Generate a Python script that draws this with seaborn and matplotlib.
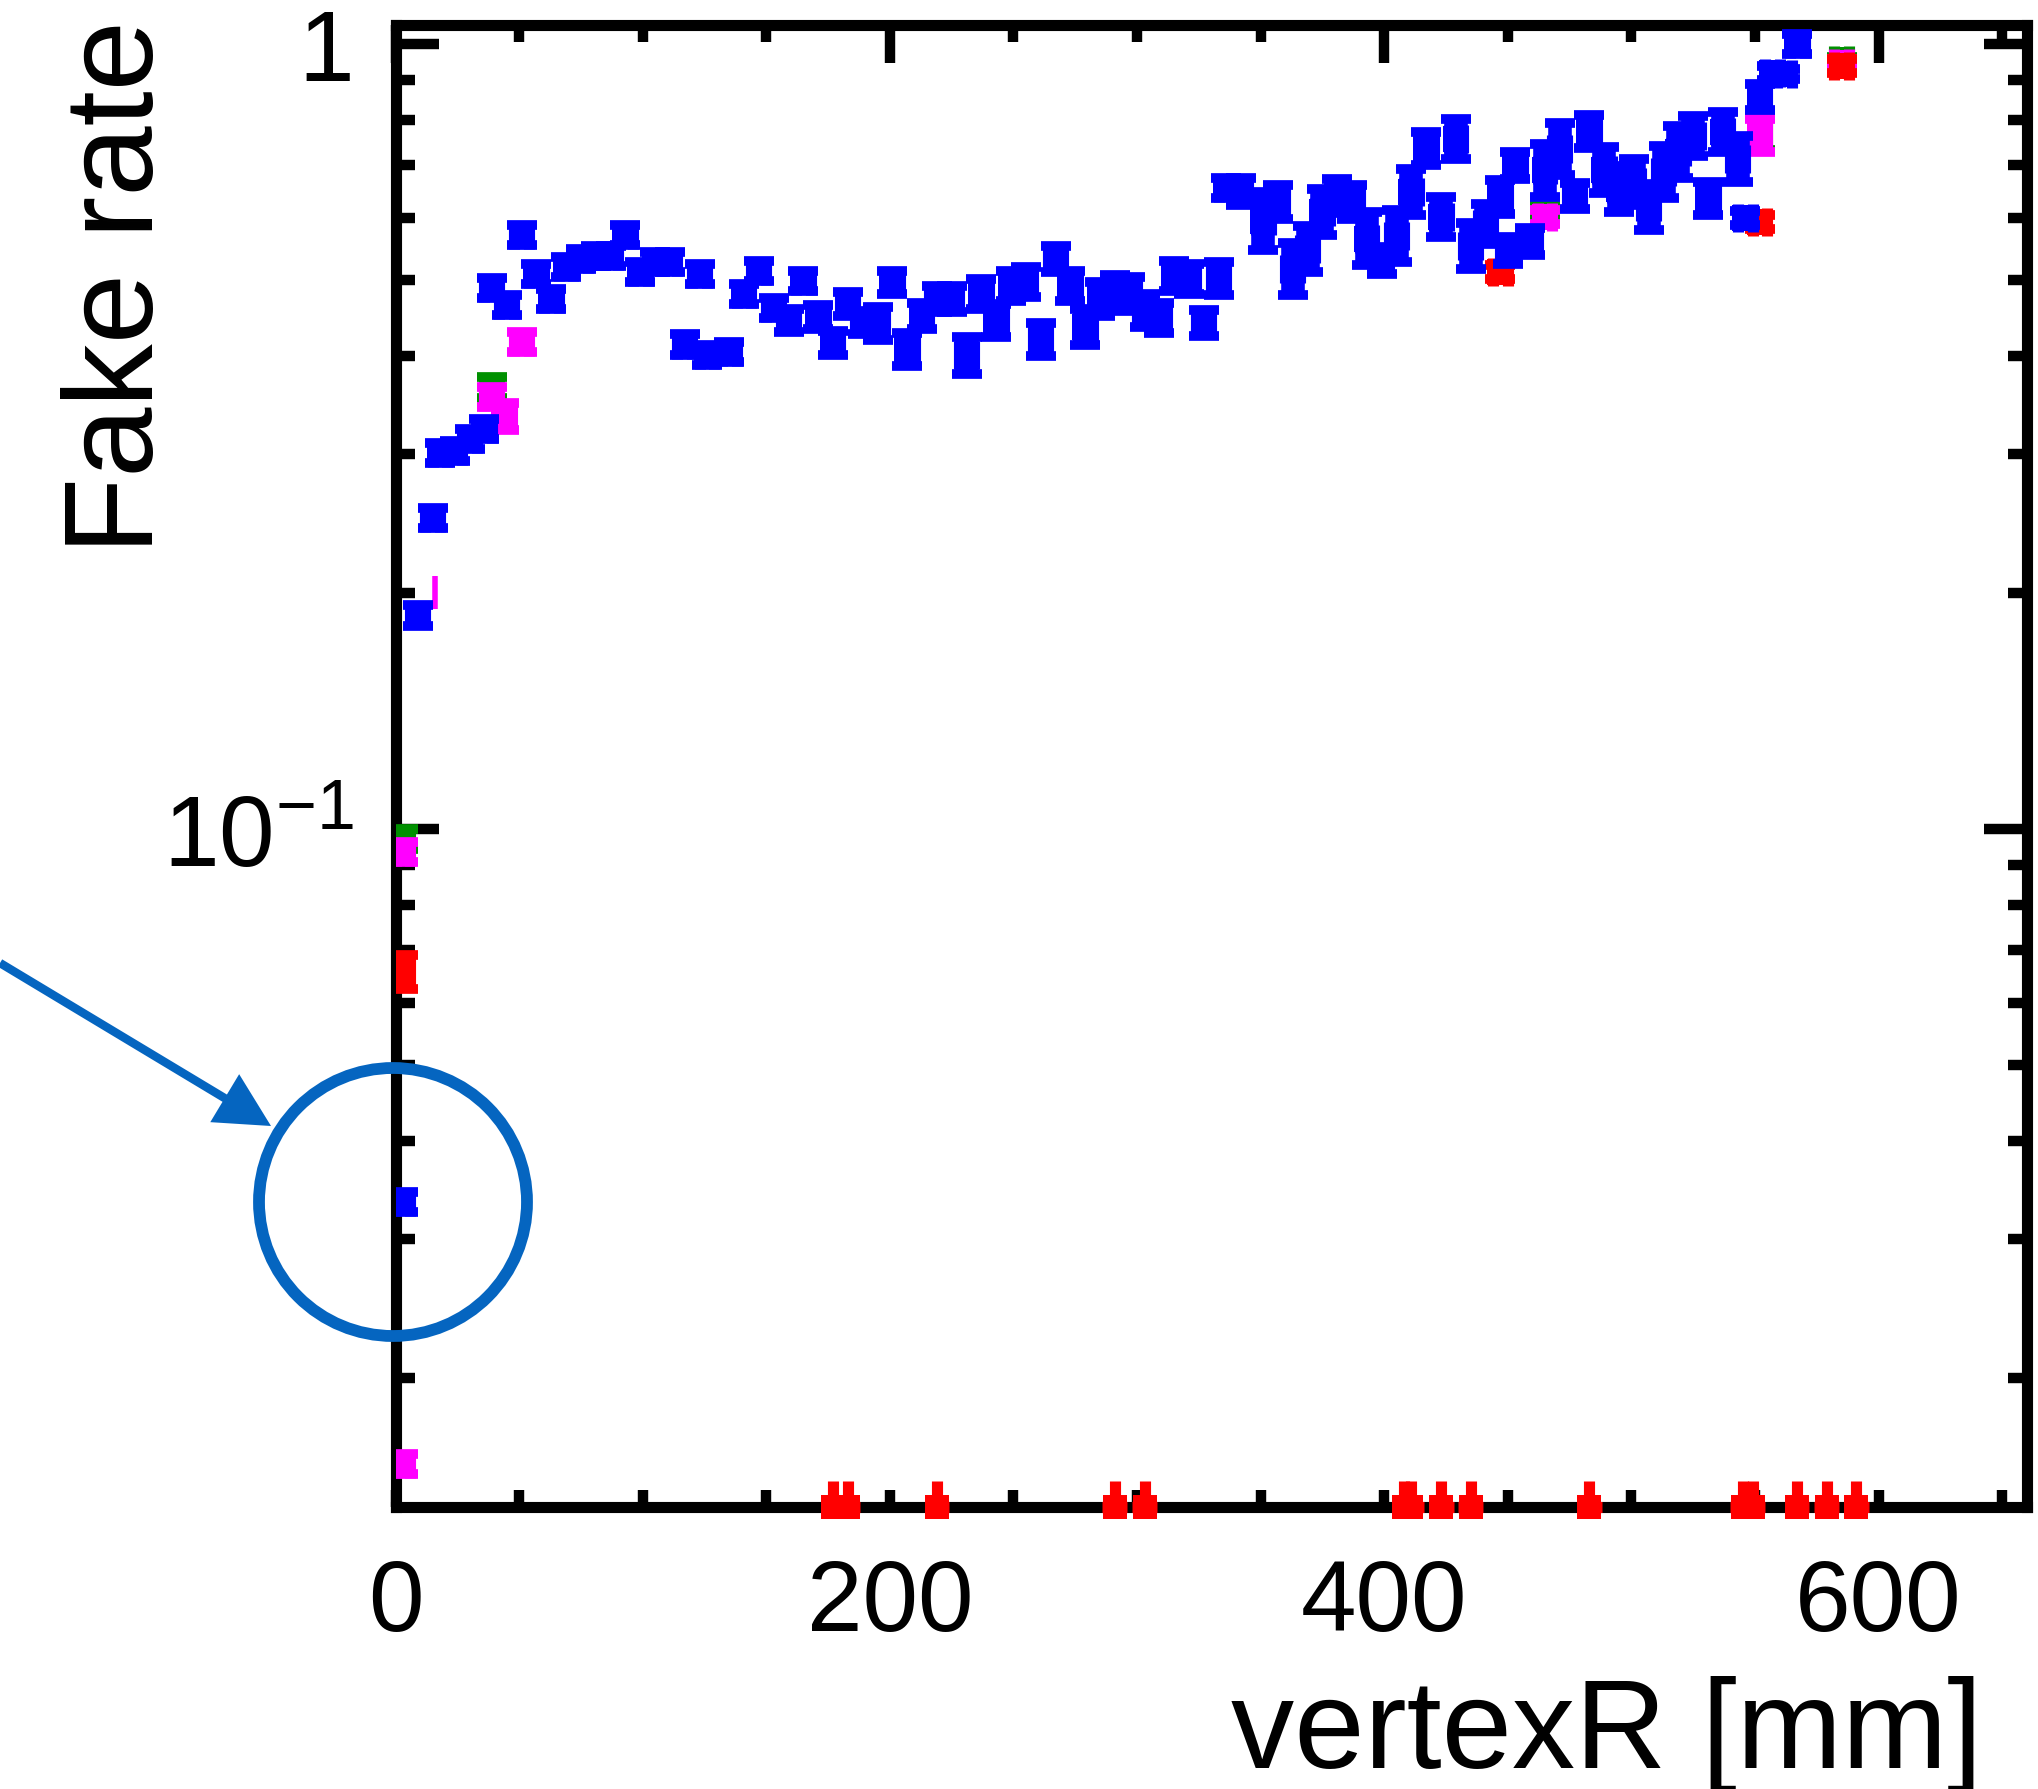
import numpy as np
import pandas as pd
import matplotlib
matplotlib.use("Agg")
import matplotlib.pyplot as plt
import seaborn as sns
from matplotlib.patches import Circle, FancyArrow
from matplotlib.ticker import FixedLocator, FixedFormatter, NullFormatter

# ---------------- data ----------------
blue_x = [3, 9, 15, 18, 24, 30, 36, 39, 45, 51, 57, 63, 69, 75, 81, 87, 93, 99, 105, 111,
          117, 123, 126, 135, 141, 147, 153, 159, 165, 171, 177, 183, 189, 195, 201, 207,
          213, 219, 225, 231, 237, 243, 249, 255, 261, 267, 273, 279, 285, 291, 297, 303,
          309, 315, 321, 327, 333, 336, 342, 351, 357, 363, 369, 375, 381, 387, 393, 399,
          405, 411, 417, 423, 429, 435, 441, 447, 450, 453, 459, 465, 471, 477, 483, 489,
          495, 501, 507, 513, 519, 525, 531, 537, 543, 546, 552, 557, 562, 567]
blue_y = [0.0335, 0.187, 0.249, 0.301, 0.303, 0.314, 0.323, 0.489, 0.465, 0.571, 0.509,
          0.473, 0.520, 0.532, 0.537, 0.537, 0.571, 0.512, 0.528, 0.528, 0.414, 0.509,
          0.401, 0.405, 0.480, 0.514, 0.461, 0.444, 0.499, 0.449, 0.416, 0.466, 0.442,
          0.440, 0.497, 0.408, 0.450, 0.473, 0.473, 0.401, 0.480, 0.444, 0.492, 0.497,
          0.420, 0.532, 0.492, 0.436, 0.473, 0.483, 0.480, 0.457, 0.448, 0.506, 0.502,
          0.441, 0.502, 0.656, 0.648, 0.595, 0.629, 0.517, 0.548, 0.611, 0.640, 0.629,
          0.565, 0.530, 0.569, 0.648, 0.735, 0.602, 0.757, 0.553, 0.590, 0.638, 0.545,
          0.700, 0.560, 0.690, 0.735, 0.640, 0.773, 0.690, 0.653, 0.667, 0.620, 0.687,
          0.728, 0.764, 0.635, 0.773, 0.714, 0.600, 0.856, 0.918, 0.916, 1.000]
blue_err = [0.03, 0.03, 0.03, 0.03, 0.03, 0.03, 0.03, 0.03, 0.03, 0.03, 0.03, 0.03, 0.03,
            0.03, 0.03, 0.03, 0.03, 0.03, 0.03, 0.03, 0.03, 0.03, 0.03, 0.03, 0.03, 0.03,
            0.03, 0.035, 0.03, 0.035, 0.035, 0.035, 0.035, 0.05, 0.035, 0.05, 0.04, 0.04,
            0.04, 0.055, 0.045, 0.05, 0.045, 0.045, 0.05, 0.04, 0.045, 0.055, 0.05, 0.05,
            0.05, 0.05, 0.045, 0.045, 0.045, 0.04, 0.05, 0.03, 0.04, 0.09, 0.05, 0.08,
            0.07, 0.07, 0.05, 0.05, 0.08, 0.04, 0.08, 0.07, 0.05, 0.06, 0.06, 0.07, 0.06,
            0.05, 0.04, 0.04, 0.04, 0.08, 0.08, 0.04, 0.05, 0.07, 0.07, 0.07, 0.07, 0.08,
            0.08, 0.06, 0.05, 0.06, 0.07, 0.02, 0.04, 0.02, 0.015, 0.03]

magenta_x = [3, 3, 39, 44, 51, 465, 552, 585]
magenta_y = [0.0935, 0.0155, 0.355, 0.335, 0.417, 0.602, 0.764, 0.946]
magenta_err = [0.03, 0.03, 0.03, 0.04, 0.03, 0.02, 0.05, 0.01]

# magenta bin whose marker is hidden: only a thin uncertainty line shows
magenta_thin_x = [16]
magenta_thin_y = [0.200]
magenta_thin_err = [0.05]

green_x = [3, 39, 465, 552, 585]
green_y = [0.097, 0.365, 0.612, 0.770, 0.954]
green_err = [0.03, 0.03, 0.02, 0.05, 0.01]

red_x = [3, 447, 552, 585]
red_y = [0.0657, 0.512, 0.593, 0.937]
red_err = [0.05, 0.02, 0.02, 0.02]

# red bins with zero fake rate (drawn on the lower frame edge)
red_zero_x = [177, 183, 219, 291, 303, 408, 411, 423, 435, 483, 545, 549, 567, 579, 591]

x_major = [0, 200, 400, 600]
x_minor = [50, 100, 150, 250, 300, 350, 450, 500, 550, 650]
y_major = [0.1, 1.0]
y_major_labels = ["$10^{-1}$", "1"]
y_minor = [0.02, 0.03, 0.04, 0.05, 0.06, 0.07, 0.08, 0.09,
           0.2, 0.3, 0.4, 0.5, 0.6, 0.7, 0.8, 0.9]

x_label = "vertexR [mm]"
y_label = "Fake rate"

# ---------------- style ----------------
sns.set_theme(style="ticks")
plt.rcParams["font.family"] = ["Liberation Sans", "DejaVu Sans"]
plt.rcParams["mathtext.default"] = "regular"
plt.rcParams["text.color"] = "black"
plt.rcParams["axes.labelcolor"] = "black"

W_PX, H_PX = 2038, 1790
fig = plt.figure(figsize=(W_PX / 100, H_PX / 100), dpi=100)
fig.patch.set_facecolor("white")

left_px, right_px, top_px, bot_px = 395.5, 2027.0, 26.0, 1508.0
ax = fig.add_axes([left_px / W_PX, 1 - bot_px / H_PX,
                   (right_px - left_px) / W_PX, (bot_px - top_px) / H_PX])
ax.set_facecolor("white")

YMIN, YMAX = 0.01368, 1.057
ax.set_yscale("log")
ax.set_xlim(0, 660)
ax.set_ylim(YMIN, YMAX)

BLUE = "#0000FF"
MAGENTA = "#FF00FF"
GREEN = "#009000"
RED = "#FF0000"

# thin magenta line (hidden marker)
dm = pd.DataFrame({"x": magenta_thin_x, "y": magenta_thin_y, "e": magenta_thin_err})
ax.errorbar(dm["x"], dm["y"],
            yerr=[dm["y"] - dm["y"] / (1 + dm["e"]), dm["y"] * dm["e"]],
            fmt="none", ecolor=MAGENTA, elinewidth=4, capsize=0, zorder=4)

# drawing order: green, magenta, red, blue (blue on top)
series = [
    ("green", green_x, green_y, green_err, GREEN, 3),
    ("magenta", magenta_x, magenta_y, magenta_err, MAGENTA, 4),
    ("red", red_x, red_y, red_err, RED, 5),
    ("blue", blue_x, blue_y, blue_err, BLUE, 6),
]

for name, xs, ys, es, col, z in series:
    df = pd.DataFrame({"x": xs, "y": ys, "e": es})
    lo = df["y"] - df["y"] / (1 + df["e"])
    hi = df["y"] * df["e"]
    # horizontal bin-width bar with end caps
    ax.errorbar(df["x"], df["y"], xerr=3, fmt="none", ecolor=col,
                elinewidth=14, capsize=10, capthick=8, zorder=z)
    # vertical uncertainty with end caps
    ax.errorbar(df["x"], df["y"], yerr=[lo, hi], fmt="none", ecolor=col,
                elinewidth=17, capsize=11, capthick=7, zorder=z)
    sns.scatterplot(data=df, x="x", y="y", color=col, marker="s", s=330,
                    linewidth=0, ax=ax, zorder=z + 0.1, legend=False)

# zero-valued red bins sitting on the frame
dz = pd.DataFrame({"x": red_zero_x, "y": [YMIN] * len(red_zero_x)})
ax.errorbar(dz["x"], dz["y"], yerr=[np.zeros(len(dz)), dz["y"] * 0.08],
            xerr=5, fmt="none", ecolor=RED, elinewidth=8, capsize=0,
            zorder=7, clip_on=False)
sns.scatterplot(data=dz, x="x", y="y", color=RED, marker="s", s=300, linewidth=0,
                ax=ax, zorder=7.1, legend=False, clip_on=False)

# ---------------- axes / ticks ----------------
for sp in ax.spines.values():
    sp.set_linewidth(8)
    sp.set_color("black")
    sp.set_zorder(2)

ax.xaxis.set_major_locator(FixedLocator(x_major))
ax.xaxis.set_minor_locator(FixedLocator(x_minor))
ax.yaxis.set_major_locator(FixedLocator(y_major))
ax.yaxis.set_major_formatter(FixedFormatter(y_major_labels))
ax.yaxis.set_minor_locator(FixedLocator(y_minor))
ax.yaxis.set_minor_formatter(NullFormatter())

ax.tick_params(which="both", direction="in", top=True, right=True,
               width=7.5, color="black", labelsize=72, labelcolor="black")
ax.tick_params(axis="y", which="major", length=31, pad=30)
ax.tick_params(axis="y", which="minor", length=14)
ax.tick_params(axis="x", which="major", length=27, pad=36)
ax.tick_params(axis="x", which="minor", length=12)
for t in ax.xaxis.get_major_ticks():
    t.tick1line.set_markersize(12)

ax.set_xlabel(x_label, fontsize=91, ha="right", va="baseline", color="black")
ax.xaxis.set_label_coords((1982 - left_px) / (right_px - left_px),
                          -(1768 - bot_px) / (bot_px - top_px))
ax.set_ylabel(y_label, fontsize=91, color="black")
ylab = ax.yaxis.label
ylab.set_rotation_mode("anchor")
ylab.set_ha("right")
ylab.set_va("baseline")
ax.yaxis.set_label_coords((153 - left_px) / (right_px - left_px),
                          (bot_px - 20) / (bot_px - top_px))

# ---------------- annotation: arrow + circle ----------------
ANN = "#0565C0"
circ = Circle((393 / 100, (H_PX - 1203) / 100), 1.34, transform=fig.dpi_scale_trans,
              fill=False, lw=8.5, edgecolor=ANN, clip_on=False, zorder=10)
fig.add_artist(circ)
x0, y0 = 0.0, (H_PX - 964) / 100
x1, y1 = 271 / 100, (H_PX - 1127) / 100
arr = FancyArrow(x0, y0, x1 - x0, y1 - y0, width=0.085, head_width=0.56,
                 head_length=0.54, length_includes_head=True,
                 transform=fig.dpi_scale_trans, color=ANN, lw=0, zorder=10)
fig.add_artist(arr)

fig.savefig("out.png", dpi=100, facecolor="white")
